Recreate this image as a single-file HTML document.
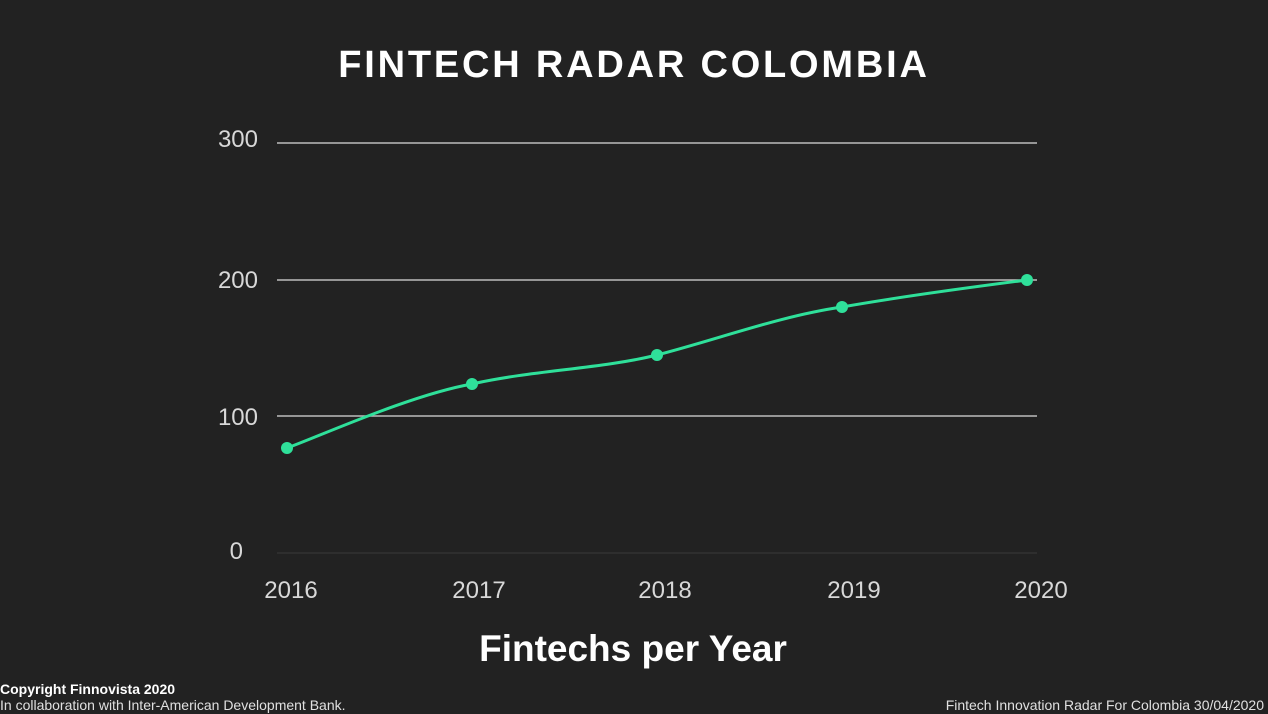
<!DOCTYPE html>
<html><head><meta charset="utf-8"><style>
html,body{margin:0;padding:0;background:#222222;}
body{width:1268px;height:714px;overflow:hidden;position:relative;font-family:"Liberation Sans",sans-serif;color:#fff;}
</style></head><body>
<svg width="1268" height="714" style="position:absolute;left:0;top:0">
<rect width="1268" height="714" fill="#222222"/>
<text x="634" y="77" text-anchor="middle" font-family="Liberation Sans" font-weight="bold" font-size="38" fill="#fff" letter-spacing="2.8">FINTECH RADAR COLOMBIA</text>
<g stroke="#bdbdbd" stroke-width="1.5">
<line x1="277" y1="143" x2="1037" y2="143"/>
<line x1="277" y1="280" x2="1037" y2="280"/>
<line x1="277" y1="416" x2="1037" y2="416"/>
</g>
<line x1="277" y1="553" x2="1037" y2="553" stroke="#3a3a3a" stroke-width="1"/>
<g font-family="Liberation Sans" font-size="24" fill="#d8d8d8" text-anchor="end">
<text x="258" y="147">300</text>
<text x="258" y="288">200</text>
<text x="258" y="425">100</text>
<text x="243" y="559">0</text>
</g>
<g font-family="Liberation Sans" font-size="24" fill="#d8d8d8" text-anchor="middle">
<text x="291" y="598">2016</text>
<text x="479" y="598">2017</text>
<text x="665" y="598">2018</text>
<text x="854" y="598">2019</text>
<text x="1041" y="598">2020</text>
</g>
<path d="M287,448 C318,437 410,395 472,384 C534,370 600,369 657,355 C719,339 780,316 842,307 C904,296 996,284 1027,280" fill="none" stroke="#2fe09a" stroke-width="3"/>
<g fill="#2fe09a">
<circle cx="287" cy="448" r="6"/><circle cx="472" cy="384" r="6"/><circle cx="657" cy="355" r="6"/><circle cx="842" cy="307" r="6"/><circle cx="1027" cy="280" r="6"/>
</g>
<text x="633" y="661" text-anchor="middle" font-family="Liberation Sans" font-weight="bold" font-size="37" fill="#fff">Fintechs per Year</text>
<text x="0" y="694" font-family="Liberation Sans" font-weight="bold" font-size="14" fill="#fff">Copyright Finnovista 2020</text>
<text x="0" y="710" font-family="Liberation Sans" font-size="14" fill="#e0e0e0">In collaboration with Inter-American Development Bank.</text>
<text x="1264" y="710" text-anchor="end" font-family="Liberation Sans" font-size="14" fill="#e0e0e0">Fintech Innovation Radar For Colombia 30/04/2020</text>
</svg>
</body></html>
